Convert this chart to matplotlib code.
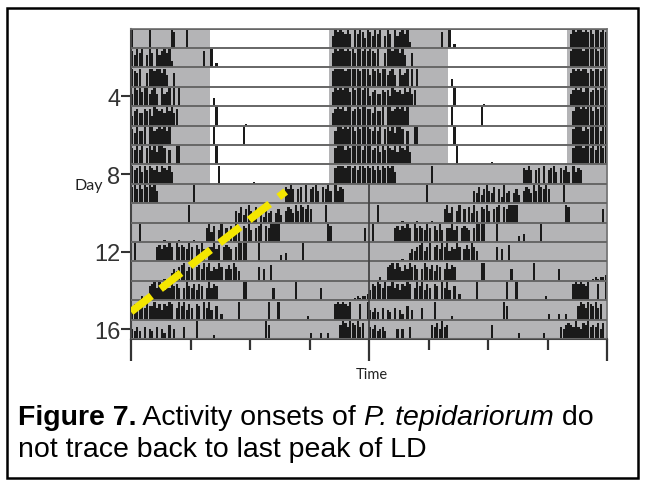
import matplotlib
matplotlib.use("Agg")
import matplotlib.pyplot as plt
import numpy as np
from matplotlib.patches import Rectangle

plt.rcParams["font.family"] = ["Liberation Sans", "DejaVu Sans"]

# activity per day, 15 min bins, 4 bins per hour key (0 = none .. 9 = max); missing hours = no activity
day01 = {0: "9000", 1: "0009", 4: "9800", 5: "0090", 20: "0698", 21: "9879", 22: "7097", 23: "9859"}
day02 = {0: "8697", 1: "9069", 2: "7096", 3: "8979", 4: "3000", 7: "0800", 8: "9020",
         20: "0798", 21: "9989", 22: "8979", 23: "9898"}
day03 = {0: "9879", 1: "0079", 2: "9899", 3: "7960", 4: "0700",
         20: "0899", 21: "9989", 22: "9999", 23: "8999"}
day04 = {0: "6989", 1: "7996", 2: "8960", 3: "9679", 4: "0909", 8: "0400",
         20: "0798", 21: "9899", 22: "7989", 23: "9899"}
day05 = {0: "5786", 1: "6878", 2: "5987", 3: "8697", 4: "9680", 8: "0090", 11: "0010",
         20: "0689", 21: "8979", 22: "9789", 23: "8998"}
day06 = {0: "8697", 1: "7909", 2: "9789", 3: "8979", 8: "0900", 11: "0900",
         20: "0079", 21: "9898", 22: "9979", 23: "8999"}
day07 = {0: "8797", 1: "9089", 2: "7969", 3: "9807", 4: "0099", 8: "0090",
         20: "0089", 21: "9979", 22: "8999", 23: "9799"}
day08 = {0: "9789", 1: "6979", 2: "8796", 3: "9879", 4: "6000", 8: "0009", 12: "0100",
         20: "0089", 21: "9989", 22: "9897", 23: "9989"}
day09 = {0: "8979", 1: "7989", 2: "8960", 6: "0900", 15: "0087", 16: "9707", 17: "8090",
         18: "7896", 19: "0879", 20: "6096", 21: "8700"}
day10 = {5: "0009", 10: "0065", 11: "8479", 12: "6580", 13: "7395", 14: "6057", 15: "4068",
         16: "7596", 17: "9879", 18: "7000", 19: "0090"}
day11 = {0: "0009", 3: "0100", 4: "0001", 6: "0100", 7: "0079", 8: "5806", 9: "9070",
         10: "8596", 11: "0879", 12: "6078", 13: "9087", 14: "9999", 19: "0009", 20: "8000",
         23: "0070"}
day12 = {0: "0900", 2: "0078", 3: "6879", 4: "7097", 5: "8769", 6: "7086", 7: "9607",
         8: "7968", 9: "0787", 10: "6079", 11: "9990", 12: "0009", 15: "3040", 17: "0900"}
day13 = {3: "0100", 4: "4657", 5: "8957", 6: "9078", 7: "6979", 8: "5769", 9: "7068",
         10: "6975", 12: "0007", 13: "0600", 14: "8000"}
day14 = {1: "2007", 2: "8969", 3: "7586", 4: "9786", 5: "0697", 6: "6858", 7: "7069",
         8: "6870", 11: "0990", 14: "0600", 16: "0090", 19: "6000", 22: "0012", 23: "1223"}
day15 = {0: "5879", 1: "8697", 2: "7968", 3: "5879", 4: "8069", 5: "7958", 6: "6087",
         7: "0969", 8: "5070", 9: "3000", 10: "0009", 13: "0009", 14: "0009", 17: "0002",
         20: "0089", 21: "8987", 22: "9000", 23: "8009"}
day16 = {0: "5464", 1: "0605", 2: "4060", 3: "5307", 4: "0500", 5: "0600", 6: "0090",
         8: "0200", 13: "0097", 18: "3000", 19: "3003", 21: "7986", 22: "9879", 23: "6800"}
day17 = {0: "6574", 1: "5640", 2: "0005", 3: "0500", 4: "6000", 6: "0768", 7: "5967",
         12: "0700", 15: "3000", 17: "0030", 19: "0657", 20: "8769", 21: "6587", 22: "9676",
         23: "8580"}
days = [day01, day02, day03, day04, day05, day06, day07, day08, day09,
        day10, day11, day12, day13, day14, day15, day16, day17]

lights_on, lights_off = 8, 20
ld_days = 8
n_rows = 16
day_ticks = [4, 8, 12, 16]
onset_hours = [0.0, 15.6]
onset_days = [15.1, 8.9]

GRAY = "#b4b4b6"
BAR = "#1a1a1a"


def counts(day):
    c = np.zeros(96)
    for hour, grp in day.items():
        for j, ch in enumerate(grp):
            c[hour * 4 + j] = int(ch)
    return c


fig = plt.figure(figsize=(6.45, 4.85), dpi=100)
ax = fig.add_axes([131 / 645, 1 - 340 / 485, 476 / 645, 310.5 / 485])

for r in range(1, n_rows + 1):
    for k in range(2):
        d = r + k
        off = 24 * k
        if d <= ld_days:
            spans = [(off, lights_on), (off + lights_off, 24 - lights_off)]
        else:
            spans = [(off, 24)]
        ax.broken_barh(spans, (r - 0.5, 1), facecolors=GRAY, lw=0, zorder=1)
        c = counts(days[d - 1])
        idx = np.nonzero(c)[0]
        ax.bar(off + (idx + 0.5) / 4, -c[idx] / 9 * 0.93, bottom=r + 0.5,
               width=0.22, color=BAR, lw=0, zorder=2)

ax.hlines(np.arange(n_rows + 1) + 0.5, 0, 48, color="#666666", lw=1.4, zorder=3)
ax.vlines(24, ld_days + 0.5, n_rows + 0.5, color="#444444", lw=1.3, zorder=3)

ax.plot(onset_hours, onset_days, color="#f4e600", lw=5.5, dashes=(3.4, 1.5),
        solid_capstyle="butt", zorder=5)

ax.set_xlim(0, 48)
ax.set_ylim(n_rows + 0.5, 0.5)
ax.set_xticks([0, 24, 48])
ax.set_xticks([6, 12, 18, 30, 36, 42], minor=True)
ax.tick_params(axis="x", which="major", length=16, width=1.6, color="#333333", labelbottom=False)
ax.tick_params(axis="x", which="minor", length=8, width=1.6, color="#333333")
ax.set_yticks(day_ticks)
ax.set_yticklabels([str(t) for t in day_ticks])
ax.tick_params(axis="y", length=7, width=1.5, color="#333333", labelsize=17,
               labelcolor="#333333", pad=0.5)
for s in ["left", "bottom"]:
    ax.spines[s].set_color("#444444")
    ax.spines[s].set_linewidth(1.5)
for s in ["top", "right"]:
    ax.spines[s].set_color("#777777")
    ax.spines[s].set_linewidth(1.3)

fig.text(89 / 645, 1 - 186 / 485, "Day", fontsize=11.5, family=["Lato", "DejaVu Sans"],
         ha="center", va="center", color="#222222")
fig.text(372 / 645, 1 - 375 / 485, "Time", fontsize=10.5, family=["Lato", "DejaVu Sans"],
         ha="center", va="center", color="#222222")

# caption with mixed styles, pieces placed one after another
renderer = fig.canvas.get_renderer()
cap_size = 20.5


def put_line(pieces, x0, y):
    x = x0
    for txt, weight, style in pieces:
        t = fig.text(x, y, txt, fontsize=cap_size, weight=weight, style=style,
                     ha="left", va="baseline", color="black")
        bb = t.get_window_extent(renderer)
        x += bb.width / fig.bbox.width


put_line([("Figure 7.", "bold", "normal"), (" Activity onsets of ", "normal", "normal"),
          ("P. tepidariorum", "normal", "italic"), (" do", "normal", "normal")],
         18 / 645, 1 - 425 / 485)
put_line([("not trace back to last peak of LD", "normal", "normal")], 18 / 645, 1 - 457 / 485)

fig.add_artist(Rectangle((7 / 645, 1 - 479 / 485), 631 / 645, 470 / 485,
                         transform=fig.transFigure, fill=False, lw=1.8, ec="black"))

fig.savefig("out.png", dpi=100)
